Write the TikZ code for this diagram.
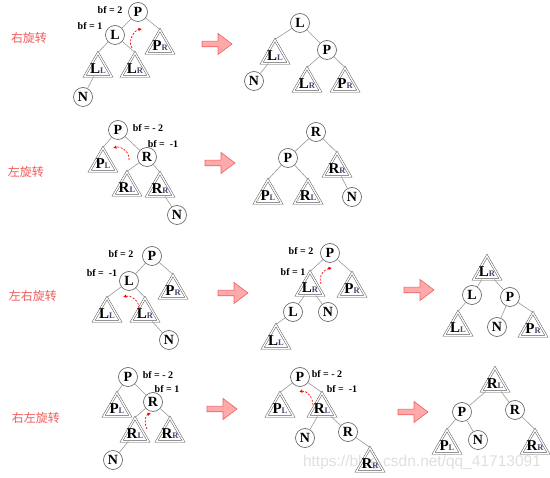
\documentclass[tikz,border=0pt]{standalone}
\usepackage{fontspec}
\setmainfont{Liberation Serif}
\newfontfamily\cjkfont{Noto Sans CJK SC}
\newfontfamily\wmfont{Liberation Sans}
\usetikzlibrary{shapes.geometric,arrows.meta}
\definecolor{rotred}{HTML}{F05A5A}
\definecolor{arrowfill}{HTML}{FFAAAA}
\definecolor{arrowdraw}{HTML}{EE6060}
\definecolor{subcol}{HTML}{404870}
\newcommand{\sbs}[1]{{\fontsize{8.5}{8.5}\selectfont\color{subcol}#1}}

\begin{document}
\begin{tikzpicture}[x=1pt, y=-1pt,
    vert/.style={circle, draw=gray!70!black, fill=white, line width=0.6pt, minimum size=19pt, inner sep=0pt, font=\bfseries\fontsize{14}{14}\selectfont},
    subtree/.style={regular polygon, regular polygon sides=3, draw=gray!70!black, double=white, double distance=1.3pt, line width=0.5pt, minimum size=31pt, inner sep=0pt},
    tlab/.style={font=\bfseries\fontsize{15}{15}\selectfont, inner sep=0pt},
    edge/.style={draw=gray!80, line width=0.6pt},
    bf/.style={font=\bfseries\fontsize{10}{10}\selectfont, inner sep=0pt},
    kind/.style={font=\cjkfont\fontsize{12}{12}\selectfont, text=rotred, inner sep=0pt},
    turn/.style={red, line width=0.7pt, dash pattern=on 2pt off 1.5pt, -{Latex[length=3.5pt,width=3.5pt]}},
    bigarrow/.style={draw=arrowdraw, fill=arrowfill, line width=0.6pt},
    fatarrow/.pic={\path[bigarrow] (0,-2.8) -- (16,-2.8) -- (16,-10.5) -- (30,0) -- (16,10.5) -- (16,2.8) -- (0,2.8) -- cycle;}
]
    \useasboundingbox (0,0) rectangle (550,478);

    \node[font=\wmfont\fontsize{15.5}{15.5}\selectfont, text=gray!25] (mark) at (422,462) {https://blog.csdn.net/qq\_41713091};

    \node[kind] (k1) at (29,38) {右旋转};
    \node[kind] (k2) at (26,172) {左旋转};
    \node[kind] (k3) at (33,296) {左右旋转};
    \node[kind] (k4) at (36,418) {右左旋转};

    \pic at (202,44) {fatarrow};
    \pic at (205,163) {fatarrow};
    \pic at (218,293) {fatarrow};
    \pic at (404,290) {fatarrow};
    \pic at (207,409) {fatarrow};
    \pic at (398,412) {fatarrow};

    \node[vert] (aP) at (138,12) {P};
    \node[vert] (aL) at (115,35) {L};
    \node[subtree, label={[tlab]center:P\sbs{R}}] (aPR) at (160,45.5) {};
    \node[subtree, label={[tlab]center:L\sbs{L}}] (aLL) at (98,68.5) {};
    \node[subtree, label={[tlab]center:L\sbs{R}}] (aLR) at (135,68.5) {};
    \node[vert] (aN) at (83,97) {N};
    \node[bf] (abf1) at (110,10) {bf = 2};
    \node[bf] (abf2) at (90,26) {bf = 1};
    \draw[edge] (aP) -- (aL);
    \draw[edge] (aP) -- (aPR.corner 1);
    \draw[edge] (aL) -- (aLL.corner 1);
    \draw[edge] (aL) -- (aLR.corner 1);
    \draw[edge] (aLL) -- (aN);
    \coordinate (a1) at (132,48);
    \coordinate (a2) at (142,29);
    \draw[turn] (a1) .. controls +(-5,-8) and +(-7,1) .. (a2);

    \node[vert] (bL) at (300,23) {L};
    \node[subtree, label={[tlab]center:L\sbs{L}}] (bLL) at (275,55.5) {};
    \node[vert] (bP) at (327,50) {P};
    \node[vert] (bN) at (254,81) {N};
    \node[subtree, label={[tlab]center:L\sbs{R}}] (bLR) at (307,83.5) {};
    \node[subtree, label={[tlab]center:P\sbs{R}}] (bPR) at (345,83.5) {};
    \draw[edge] (bL) -- (bLL.corner 1);
    \draw[edge] (bL) -- (bP);
    \draw[edge] (bLL) -- (bN);
    \draw[edge] (bP) -- (bLR.corner 1);
    \draw[edge] (bP) -- (bPR.corner 1);

    \node[vert] (cP) at (118,130) {P};
    \node[vert] (cR) at (147,157) {R};
    \node[subtree, label={[tlab]center:P\sbs{L}}] (cPL) at (103,163.5) {};
    \node[subtree, label={[tlab]center:R\sbs{L}}] (cRL) at (127,187.5) {};
    \node[subtree, label={[tlab]center:R\sbs{R}}] (cRR) at (160,188.5) {};
    \node[vert] (cN) at (177,215) {N};
    \node[bf] (cbf1) at (148,128) {bf = - 2};
    \node[bf] (cbf2) at (163,144) {bf =\ \ -1};
    \draw[edge] (cP) -- (cR);
    \draw[edge] (cP) -- (cPL.corner 1);
    \draw[edge] (cR) -- (cRL.corner 1);
    \draw[edge] (cR) -- (cRR.corner 1);
    \draw[edge] (cRR) -- (cN);
    \coordinate (c1) at (129,160);
    \coordinate (c2) at (113,148);
    \draw[turn] (c1) .. controls +(1,-9) and +(7,-2) .. (c2);

    \node[vert] (dR) at (316,132) {R};
    \node[vert] (dP) at (288,158) {P};
    \node[subtree, label={[tlab]center:R\sbs{R}}] (dRR) at (337,168.5) {};
    \node[subtree, label={[tlab]center:P\sbs{L}}] (dPL) at (268,195.5) {};
    \node[subtree, label={[tlab]center:R\sbs{L}}] (dRL) at (308,195.5) {};
    \node[vert] (dN) at (352,197) {N};
    \draw[edge] (dR) -- (dP);
    \draw[edge] (dR) -- (dRR.corner 1);
    \draw[edge] (dP) -- (dPL.corner 1);
    \draw[edge] (dP) -- (dRL.corner 1);
    \draw[edge] (dRR) -- (dN);

    \node[vert] (eP) at (152,256) {P};
    \node[vert] (eL) at (129,281) {L};
    \node[subtree, label={[tlab]center:P\sbs{R}}] (ePR) at (173,290.5) {};
    \node[subtree, label={[tlab]center:L\sbs{L}}] (eLL) at (107,313.5) {};
    \node[subtree, label={[tlab]center:L\sbs{R}}] (eLR) at (145,313.5) {};
    \node[vert] (eN) at (169,340) {N};
    \node[bf] (ebf1) at (121,254) {bf = 2};
    \node[bf] (ebf2) at (102,273) {bf =\ \ -1};
    \draw[edge] (eP) -- (eL);
    \draw[edge] (eP) -- (ePR.corner 1);
    \draw[edge] (eL) -- (eLL.corner 1);
    \draw[edge] (eL) -- (eLR.corner 1);
    \draw[edge] (eLR) -- (eN);
    \coordinate (e1) at (139,308);
    \coordinate (e2) at (123,297);
    \draw[turn] (e1) .. controls +(0,-8) and +(7,-2) .. (e2);

    \node[vert] (fP) at (330,253) {P};
    \node[subtree, label={[tlab]center:L\sbs{R}}] (fLR) at (310,287.5) {};
    \node[subtree, label={[tlab]center:P\sbs{R}}] (fPR) at (352,288.5) {};
    \node[vert] (fL) at (293,312) {L};
    \node[vert] (fN) at (328,312) {N};
    \node[subtree, label={[tlab]center:L\sbs{L}}] (fLL) at (276,340.5) {};
    \node[bf] (fbf1) at (301,251) {bf = 2};
    \node[bf] (fbf2) at (293,272) {bf = 1};
    \draw[edge] (fP) -- (fLR.corner 1);
    \draw[edge] (fP) -- (fPR.corner 1);
    \draw[edge] (fLR) -- (fL);
    \draw[edge] (fLR) -- (fN);
    \draw[edge] (fL) -- (fLL.corner 1);
    \coordinate (f1) at (321,284);
    \coordinate (f2) at (332,268);
    \draw[turn] (f1) .. controls +(-3,-9) and +(-7,1) .. (f2);

    \node[subtree, label={[tlab]center:L\sbs{R}}] (gLR) at (487,271.5) {};
    \node[vert] (gL) at (472,295) {L};
    \node[vert] (gP) at (510,297) {P};
    \node[subtree, label={[tlab]center:L\sbs{L}}] (gLL) at (458,327.5) {};
    \node[vert] (gN) at (497,327) {N};
    \node[subtree, label={[tlab]center:P\sbs{R}}] (gPR) at (533,328.5) {};
    \draw[edge] (gLR) -- (gL);
    \draw[edge] (gLR) -- (gP);
    \draw[edge] (gL) -- (gLL.corner 1);
    \draw[edge] (gP) -- (gN);
    \draw[edge] (gP) -- (gPR.corner 1);

    \node[vert] (hP) at (128,377) {P};
    \node[vert] (hR) at (153,402) {R};
    \node[subtree, label={[tlab]center:P\sbs{L}}] (hPL) at (117,408.5) {};
    \node[subtree, label={[tlab]center:R\sbs{L}}] (hRL) at (135,433.5) {};
    \node[subtree, label={[tlab]center:R\sbs{R}}] (hRR) at (170,433.5) {};
    \node[vert] (hN) at (113,460) {N};
    \node[bf] (hbf1) at (158,375) {bf = - 2};
    \node[bf] (hbf2) at (167,389) {bf = 1};
    \draw[edge] (hP) -- (hPL.corner 1);
    \draw[edge] (hP) -- (hR);
    \draw[edge] (hR) -- (hRL.corner 1);
    \draw[edge] (hR) -- (hRR.corner 1);
    \draw[edge] (hRL) -- (hN);
    \coordinate (h1) at (147,429);
    \coordinate (h2) at (151,413);
    \draw[turn] (h1) .. controls +(-4,-8) and +(-5,2) .. (h2);

    \node[vert] (iP) at (300,377) {P};
    \node[subtree, label={[tlab]center:P\sbs{L}}] (iPL) at (280,408.5) {};
    \node[subtree, label={[tlab]center:R\sbs{L}}] (iRL) at (322,408.5) {};
    \node[vert] (iN) at (305,438) {N};
    \node[vert] (iR) at (348,432) {R};
    \node[subtree, label={[tlab]center:R\sbs{R}}] (iRR) at (370,463.5) {};
    \node[bf] (ibf1) at (327,374) {bf = - 2};
    \node[bf] (ibf2) at (342,389) {bf =\ \ -1};
    \draw[edge] (iP) -- (iPL.corner 1);
    \draw[edge] (iP) -- (iRL.corner 1);
    \draw[edge] (iRL) -- (iN);
    \draw[edge] (iRL) -- (iR);
    \draw[edge] (iR) -- (iRR.corner 1);
    \coordinate (i1) at (313,405);
    \coordinate (i2) at (299,392);
    \draw[turn] (i1) .. controls +(0,-8) and +(7,-2) .. (i2);

    \node[subtree, label={[tlab]center:R\sbs{L}}] (jRL) at (495,383.5) {};
    \node[vert] (jP) at (462,412) {P};
    \node[vert] (jR) at (515,410) {R};
    \node[subtree, label={[tlab]center:P\sbs{L}}] (jPL) at (447,445.5) {};
    \node[vert] (jN) at (478,440) {N};
    \node[subtree, label={[tlab]center:R\sbs{R}}] (jRR) at (535,445.5) {};
    \draw[edge] (jRL) -- (jP);
    \draw[edge] (jRL) -- (jR);
    \draw[edge] (jP) -- (jPL.corner 1);
    \draw[edge] (jP) -- (jN);
    \draw[edge] (jR) -- (jRR.corner 1);
\end{tikzpicture}
\end{document}
